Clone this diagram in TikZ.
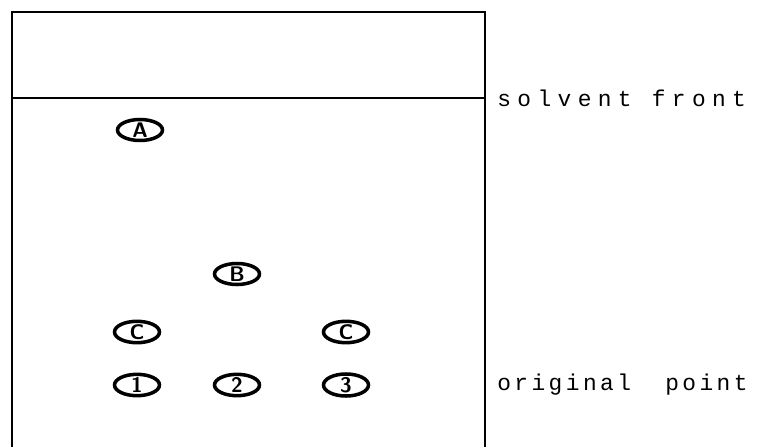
\documentclass[tikz,border=0pt]{standalone}
\usepackage{fontspec}
\usepackage{tikz}
\usetikzlibrary{shapes.geometric}
\newfontfamily\frontfont[LetterSpace=28]{Liberation Mono}
\newfontfamily\originfont[LetterSpace=15]{Liberation Mono}
\tikzset{spot/.style={draw,ellipse,line width=2pt,minimum width=0.9cm,minimum height=0.42cm,inner sep=0pt,font=\sffamily\bfseries\large},
  plate/.style={line width=1.4pt},
  marktext/.style={anchor=west,inner sep=0pt}}

\begin{document}
\begin{tikzpicture}
\useasboundingbox (0,0) rectangle (15.22,8.94);
\draw[plate] (0.24,0) -- (0.24,8.7) -- (9.7,8.7) -- (9.7,0);
\draw[plate] (0.24,6.98) -- (9.7,6.98);
\node[spot] (spotA) at (2.8,6.34) {A};
\node[spot] (spotB) at (4.74,3.46) {B};
\node[spot] (spotCa) at (2.74,2.3) {C};
\node[spot] (spotCb) at (6.92,2.3) {C};
\node[spot] (orgone) at (2.74,1.24) {1};
\node[spot] (orgtwo) at (4.74,1.24) {2};
\node[spot] (orgthree) at (6.92,1.24) {3};
\node[marktext,font=\frontfont\fontsize{13}{15}\selectfont] (front) at (9.94,6.98) {solvent front};
\node[marktext,font=\originfont\fontsize{13}{15}\selectfont] (origin) at (9.94,1.24) {original\ \ point};
\end{tikzpicture}
\end{document}
